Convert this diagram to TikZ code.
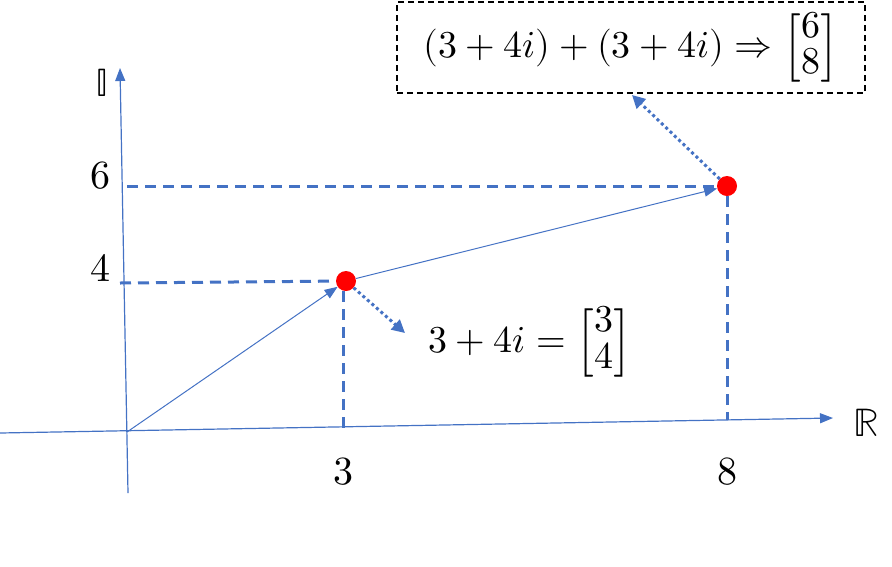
\documentclass[tikz,border=0pt]{standalone}
\usepackage{amsmath}
\usepackage{unicode-math}
\usetikzlibrary{arrows.meta}
\definecolor{ob}{HTML}{4472C4}
\tikzset{
 axis/.style={draw=ob, line width=1.2pt, -{Triangle[length=13pt,width=10pt]}},
 vec/.style={draw=ob, line width=1pt, -{Triangle[length=13pt,width=10pt]}},
 guide/.style={draw=ob, line width=3pt, dash pattern=on 11pt off 7pt},
 pointer/.style={draw=ob, line width=3pt, dash pattern=on 3pt off 3pt, -{Triangle[length=13pt,width=13pt]}},
 dot/.style={circle, fill=red, minimum size=20pt, inner sep=0pt},
 lbl/.style={font=\fontsize{40}{48}\selectfont, inner sep=0pt},
 formula/.style={font=\fontsize{38}{45}\selectfont, inner sep=0pt},
 callout/.style={draw=black, line width=1.4pt, dash pattern=on 6pt off 4pt, minimum width=468pt, minimum height=91pt, inner sep=0pt},
}
\renewcommand{\arraystretch}{0.8}
\begin{document}
\begin{tikzpicture}[x=1pt,y=-1pt]
\useasboundingbox (0,0) rectangle (892,566);
\coordinate (O) at (127,432);
\coordinate (xs) at (0,433);
\coordinate (xe) at (833,418);
\coordinate (ys) at (128,493);
\coordinate (ye) at (120,68);
\draw[axis] (xs) -- (xe);
\draw[axis] (ys) -- (ye);
\node[dot] (A) at (346,281) {};
\node[dot] (B) at (727,186) {};
\coordinate (A4) at (120,283);
\coordinate (A3) at (343,428);
\coordinate (B6) at (127,186);
\coordinate (B8) at (727,420);
\draw[guide] (A4) -- (A);
\draw[guide] (A.south -| A3) -- (A3);
\draw[guide] (B6) -- (B);
\draw[guide] (B) -- (B8);
\draw[vec] (O) -- (A);
\draw[vec] (A) -- (B);
\node[callout] (box) at (631,47.5) {};
\node[formula] (sum) at (631,48) {$(3+4i)+(3+4i)\Rightarrow\begin{bmatrix}6\\8\end{bmatrix}$};
\node[formula, anchor=west] (eqA) at (428,343) {$3+4i=\begin{bmatrix}3\\4\end{bmatrix}$};
\coordinate (Ap) at (405,333);
\coordinate (Bp) at (632,95);
\draw[pointer] (A) -- (Ap);
\draw[pointer] (B) -- (Bp);
\node[lbl] (lI) at (102,83) {$\mathbb{I}$};
\node[lbl] (l6) at (100,176) {$6$};
\node[lbl] (l4) at (100,268) {$4$};
\node[lbl] (l3) at (343,472) {$3$};
\node[lbl] (l8) at (727,472) {$8$};
\node[lbl] (lR) at (866,423) {$\mathbb{R}$};
\end{tikzpicture}
\end{document}
